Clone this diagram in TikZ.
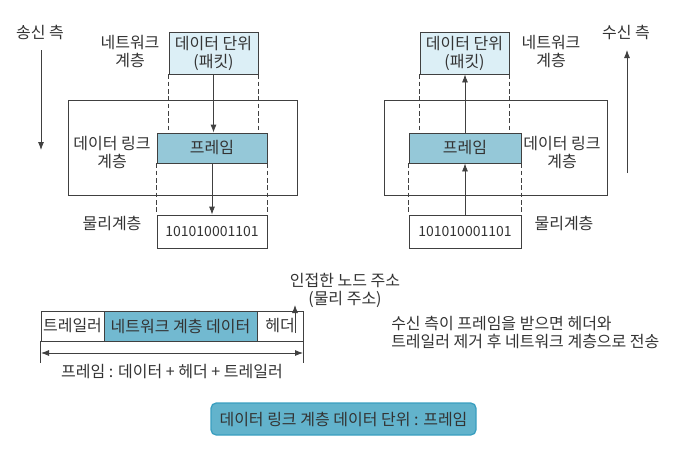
\documentclass[tikz,border=0pt]{standalone}
\usepackage{fontspec}
\setmainfont{Noto Sans CJK KR}
\usetikzlibrary{arrows.meta}
\definecolor{txt}{HTML}{333333}
\definecolor{ln}{HTML}{404040}
\definecolor{pktfill}{HTML}{DCEFF6}
\definecolor{frmfill}{HTML}{95C8D8}
\definecolor{ndfill}{HTML}{72B9D0}
\definecolor{capfill}{HTML}{62B3CC}
\definecolor{capdraw}{HTML}{3A9FC0}
\tikzset{
  box/.style={draw=ln, line width=0.6pt, inner sep=0pt, text=txt, align=center},
  bitsbox/.style={box, font=\fontsize{10.5}{13.5}\selectfont},
  lbl/.style={text=txt, align=center, inner sep=0pt},
  dsh/.style={draw=ln, dashed, dash pattern=on 3.5pt off 2pt, line width=0.5pt},
  arr/.style={draw=ln, line width=0.6pt, -{Latex[length=6pt,width=4.5pt]}},
  darr/.style={draw=ln, line width=0.6pt, {Latex[length=6pt,width=4.5pt]}-{Latex[length=6pt,width=4.5pt]}},
  tick/.style={draw=ln, line width=0.6pt},
}
\begin{document}
\begin{tikzpicture}[x=0.75pt,y=-0.75pt,font=\fontsize{12}{13.5}\selectfont]
\useasboundingbox (0,0) rectangle (688,450);
% ---------- left (sending) ----------
\node[box, minimum width=229*0.75pt, minimum height=95*0.75pt] (dlL) at (182.5,147.5) {};
\node[box, fill=pktfill, minimum width=89*0.75pt, minimum height=42*0.75pt] (pkL) at (213.5,53) {데이터 단위\\(패킷)};
\node[box, fill=frmfill, minimum width=110*0.75pt, minimum height=30*0.75pt] (frL) at (212,148) {프레임};
\node[bitsbox, minimum width=110*0.75pt, minimum height=33*0.75pt] (bitL) at (212,231.5) {101010001101};
\node[lbl] (sendL) at (40,32) {송신 측};
\node[lbl] (netL) at (130,52) {네트워크\\계층};
\node[lbl] (dllL) at (112,153) {데이터 링크\\계층};
\node[lbl] (phyL) at (112,223) {물리계층};
\coordinate (sa1) at (41,50);
\coordinate (sa2) at (41,150);
\draw[arr] (sa1) -- (sa2);
\draw[dsh] (pkL.south west) -- (pkL.south west |- frL.north);
\draw[dsh] (pkL.south east) -- (pkL.south east |- frL.north);
\draw[dsh] (frL.south west) -- (bitL.north west);
\draw[dsh] (frL.south east) -- (bitL.north east);
\draw[arr] (pkL.south) -- (pkL.south |- frL.north);
\draw[arr] (frL.south) -- (bitL.north);
% ---------- right (receiving) ----------
\node[box, minimum width=223*0.75pt, minimum height=95*0.75pt] (dlR) at (495.5,147.5) {};
\node[box, fill=pktfill, minimum width=89*0.75pt, minimum height=42*0.75pt] (pkR) at (464.5,53) {데이터 단위\\(패킷)};
\node[box, fill=frmfill, minimum width=112*0.75pt, minimum height=30*0.75pt] (frR) at (465,148) {프레임};
\node[bitsbox, minimum width=112*0.75pt, minimum height=33*0.75pt] (bitR) at (465,231.5) {101010001101};
\node[lbl] (recvR) at (626,32) {수신 측};
\node[lbl] (netR) at (551,52) {네트워크\\계층};
\node[lbl] (dllR) at (562,153) {데이터 링크\\계층};
\node[lbl] (phyR) at (564,223) {물리계층};
\coordinate (ra1) at (627,173);
\coordinate (ra2) at (627,50);
\draw[arr] (ra1) -- (ra2);
\draw[dsh] (pkR.south west) -- (pkR.south west |- frR.north);
\draw[dsh] (pkR.south east) -- (pkR.south east |- frR.north);
\draw[dsh] (frR.south west) -- (bitR.north west);
\draw[dsh] (frR.south east) -- (bitR.north east);
\draw[arr] (frR.north) -- (frR.north |- pkR.south);
\draw[arr] (bitR.north) -- (frR.south);
% ---------- frame structure ----------
\node[box, minimum width=63*0.75pt, minimum height=30*0.75pt] (tr) at (72.5,326) {트레일러};
\node[box, fill=ndfill, minimum width=153*0.75pt, minimum height=30*0.75pt] (nd) at (180.5,326) {네트워크 계층 데이터};
\node[box, minimum width=46*0.75pt, minimum height=30*0.75pt] (hd) at (280,326) {헤더};
\coordinate (ha1) at (295,333);
\coordinate (ha2) at (295,305);
\draw[arr] (ha1) -- (ha2);
\node[lbl] (addr) at (345,290.5) {인접한 노드 주소\\(물리 주소)};
\coordinate (d1) at (41,353);
\coordinate (d2) at (303,353);
\draw[darr] (d1) -- (d2);
\draw[tick] (tr.south west) -- ++(0,22);
\draw[tick] (hd.south east) -- ++(0,22);
\node[lbl] (frmeq) at (172,372) {프레임 : 데이터 + 헤더 + 트레일러};
\node[lbl, anchor=west, align=left] (note) at (391,332.5) {수신 측이 프레임을 받으면 헤더와\\트레일러 제거 후 네트워크 계층으로 전송};
% ---------- caption ----------
\node[draw=capdraw, fill=capfill, line width=1pt, rounded corners=4pt, text=txt, inner sep=0pt, minimum width=265*0.75pt, minimum height=32*0.75pt] (cap) at (343.5,419) {데이터 링크 계층 데이터 단위 : 프레임};
\end{tikzpicture}
\end{document}
